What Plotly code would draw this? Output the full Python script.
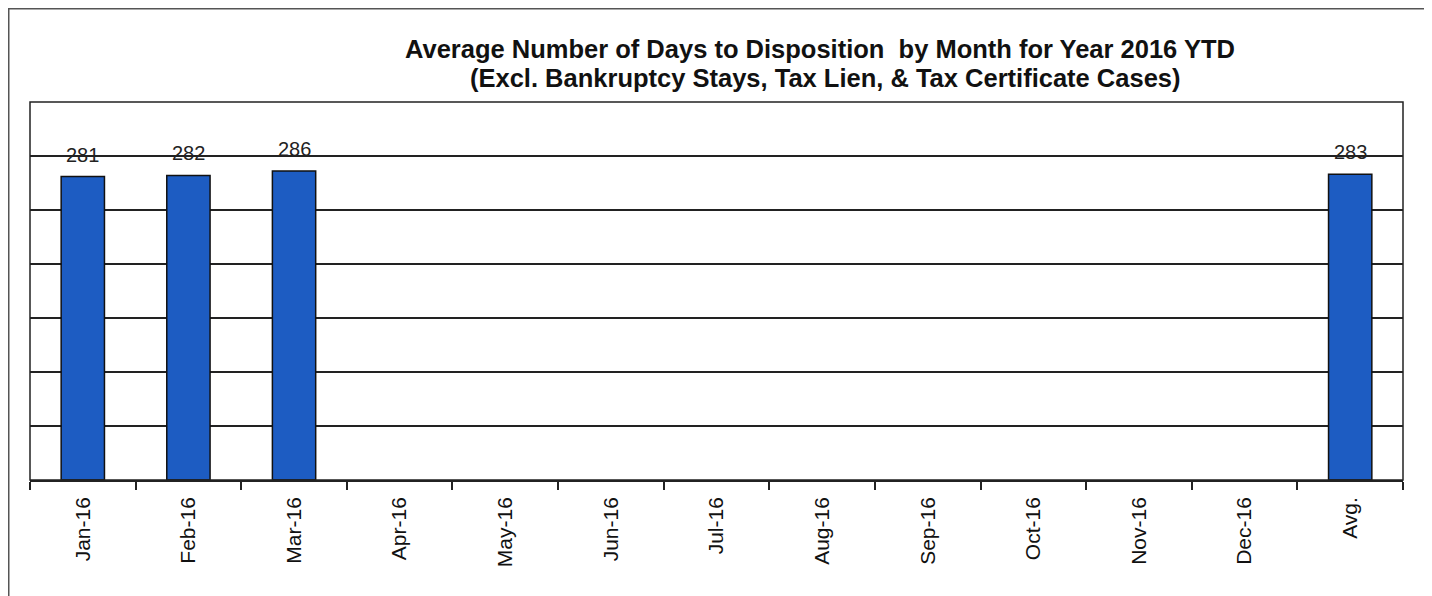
import plotly.graph_objects as go

categories = ["Jan-16", "Feb-16", "Mar-16", "Apr-16", "May-16", "Jun-16", "Jul-16",
              "Aug-16", "Sep-16", "Oct-16", "Nov-16", "Dec-16", "Avg."]
values = [281, 282, 286, None, None, None, None, None, None, None, None, None, 283]

FONT = "Arial, Liberation Sans, sans-serif"

# Figure geometry (page body adds an 8px offset)
W, H = 1424, 588
L, T, R, B = 22, 94, 29, 116
PW, PH = W - L - R, H - T - B

def px(x):
    return (x - L) / PW

def py(y):
    return (H - B - y) / PH

fig = go.Figure()
fig.add_trace(go.Bar(
    x=categories, y=values,
    marker=dict(color="#1d5cc2", line=dict(color="#111", width=1.5)),
    width=0.41,
))

for c, v in zip(categories, values):
    if v is not None:
        fig.add_annotation(x=c, y=v, text=str(v), showarrow=False, yanchor="bottom",
                           yshift=9, font=dict(family=FONT, size=20, color="#222"))

fig.update_layout(
    width=W, height=H,
    paper_bgcolor="white", plot_bgcolor="white",
    margin=dict(l=L, r=R, t=T, b=B),
    showlegend=False,
    font=dict(family=FONT, color="#111"),
    xaxis=dict(type="category", tickson="boundaries", ticks="outside", ticklen=8,
               tickcolor="#222", tickwidth=1.5, showline=True, linecolor="#222",
               linewidth=1.5, tickangle=-90, ticklabelstandoff=7,
               tickfont=dict(family=FONT, size=21, color="#111"),
               showgrid=False),
    yaxis=dict(range=[0, 350], dtick=50, showgrid=True, gridcolor="#222", gridwidth=1.5,
               showticklabels=False, zeroline=False, showline=False, ticks=""),
)

# Title (two lines)
fig.add_annotation(
    text="<b>Average Number of Days to Disposition  by Month for Year 2016 YTD</b>",
    xref="paper", yref="paper", x=px(812), y=py(41),
    xanchor="center", yanchor="middle", showarrow=False,
    font=dict(family=FONT, size=25.5, color="#111"),
)
fig.add_annotation(
    text="<b>(Excl. Bankruptcy Stays, Tax Lien, &amp; Tax Certificate Cases)</b>",
    xref="paper", yref="paper", x=px(817), y=py(70),
    xanchor="center", yanchor="middle", showarrow=False,
    font=dict(family=FONT, size=25.5, color="#111"),
)

# Plot area border
fig.add_shape(type="rect", xref="paper", yref="paper", x0=0, x1=1, y0=0, y1=1,
              line=dict(color="#222", width=1.5))
# Outer chart border
fig.add_shape(type="rect", xref="paper", yref="paper",
              x0=px(0.75), x1=px(1419), y0=py(H + 10), y1=py(0.75),
              line=dict(color="#555", width=1.5))

fig.write_html("out.html")
